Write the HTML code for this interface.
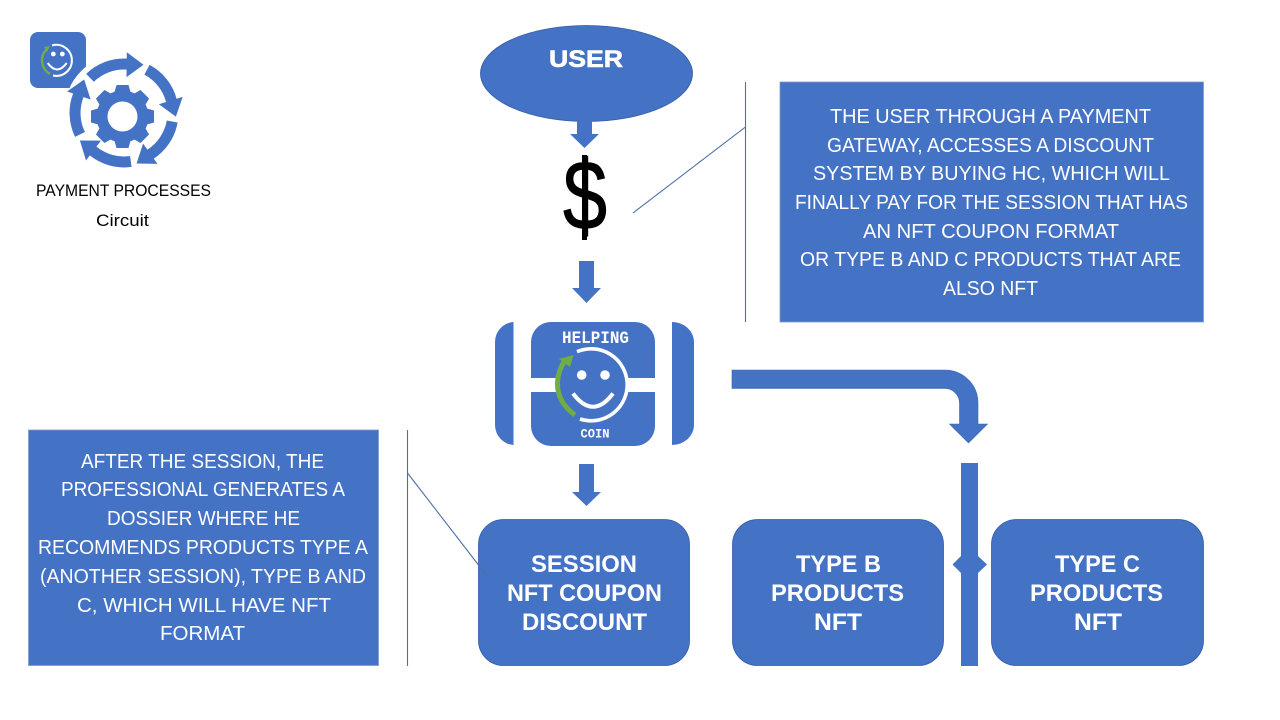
<!DOCTYPE html>
<html><head><meta charset="utf-8"><title>Payment Processes Circuit</title>
<style>html,body{margin:0;padding:0;background:#fff}svg{display:block}
text{font-family:"Liberation Sans",sans-serif}
.w{fill:#fff;font-size:20px;text-anchor:start}
.b{fill:#fff;font-size:24px;font-weight:bold;text-anchor:start}
.k{fill:#000;font-size:17px}
.m{font-family:"Liberation Mono",monospace;font-weight:bold;fill:#fff}
</style></head><body>
<svg width="1280" height="720" viewBox="0 0 1280 720" xmlns="http://www.w3.org/2000/svg">
<rect width="1280" height="720" fill="#fff"/>

<!-- top-left logo -->
<rect x="30" y="32" width="56" height="56" rx="8" fill="#4472c4"/>
<circle cx="124" cy="113" r="60" fill="#fff"/>
<path d="M52 45.500 A15.500 15.500 0 1 1 53 75.500" fill="none" stroke="#fff" stroke-width="2"/>
<path d="M50 74 A15.500 15.500 0 0 1 46 50" fill="none" stroke="#70ad47" stroke-width="2.400"/>
<polygon points="50,46 44,47 47,52" fill="#70ad47"/>
<circle cx="53.300" cy="54" r="2.400" fill="#fff"/><circle cx="62.300" cy="54" r="2.400" fill="#fff"/>
<path d="M47.700 63 Q57 76 66.700 63" fill="none" stroke="#fff" stroke-width="2"/>

<!-- circular arrows -->
<g fill="#4472c4">
<g id="a"><path d="M90 77.800 A49 49 0 0 1 127 64.100" fill="none" stroke="#4472c4" stroke-width="11"/><polygon points="126.500,77.100 126.800,52.200 143.500,64.800"/></g>
<use href="#a" transform="rotate(72 124 113)"/>
<use href="#a" transform="rotate(144 124 113)"/>
<use href="#a" transform="rotate(216 124 113)"/>
<use href="#a" transform="rotate(288 124 113)"/>
<!-- gear -->
<circle cx="122.500" cy="116.500" r="26"/>
<g id="t"><polygon points="114,94 116.500,85 128.500,85 131,94 131,139 128.500,148 116.500,148 114,139"/></g>
<use href="#t" transform="rotate(45 122.500 116.500)"/>
<use href="#t" transform="rotate(90 122.500 116.500)"/>
<use href="#t" transform="rotate(135 122.500 116.500)"/>
</g>
<circle cx="122.500" cy="116.500" r="15" fill="#fff"/>
<text class="k" x="36" y="196" textLength="175" lengthAdjust="spacingAndGlyphs">PAYMENT PROCESSES</text>
<text class="k" x="96" y="226" textLength="53" lengthAdjust="spacingAndGlyphs">Circuit</text>

<!-- user -->
<ellipse cx="586.500" cy="73.500" rx="106" ry="48" fill="#4472c4" stroke="#355ca6" stroke-width=".8"/>
<text x="549" y="67" style="font-size:24px;font-weight:bold;fill:#fff;stroke:#fff;stroke-width:.6" textLength="74" lengthAdjust="spacingAndGlyphs">USER</text>

<!-- straight arrows -->
<g fill="#4472c4">
<polygon points="577,121 592,121 592,134 599,134 584.500,148 570,134 577,134"/>
<polygon points="579,261 594,261 594,288 601,288 586.500,303 572,288 579,288"/>
<polygon points="579,464 594,464 594,492 601,492 586.500,506 572,492 579,492"/>
</g>

<!-- dollar -->
<text x="563" y="229" style="font-size:98px;fill:#000;stroke:#000;stroke-width:1" textLength="44" lengthAdjust="spacingAndGlyphs">$</text>
<rect x="582" y="155" width="5" height="85" fill="#000"/>

<!-- right note -->
<rect x="780" y="82" width="423.500" height="240" fill="#4472c4" stroke="#7f9bd1" stroke-width=".8"/>
<text class="w" x="830" y="123" textLength="321" lengthAdjust="spacingAndGlyphs">THE USER THROUGH A PAYMENT</text>
<text class="w" x="827" y="152" textLength="327" lengthAdjust="spacingAndGlyphs">GATEWAY, ACCESSES A DISCOUNT</text>
<text class="w" x="813" y="180" textLength="357" lengthAdjust="spacingAndGlyphs">SYSTEM BY BUYING HC, WHICH WILL</text>
<text class="w" x="795" y="209" textLength="393" lengthAdjust="spacingAndGlyphs">FINALLY PAY FOR THE SESSION THAT HAS</text>
<text class="w" x="863" y="238" textLength="256" lengthAdjust="spacingAndGlyphs">AN NFT COUPON FORMAT</text>
<text class="w" x="800" y="266" textLength="381" lengthAdjust="spacingAndGlyphs">OR TYPE B AND C PRODUCTS THAT ARE</text>
<text class="w" x="943" y="295" textLength="95" lengthAdjust="spacingAndGlyphs">ALSO NFT</text>

<!-- left note -->
<rect x="28.500" y="430" width="350" height="235.500" fill="#4472c4" stroke="#7f9bd1" stroke-width=".8"/>
<text class="w" x="81" y="468" textLength="243" lengthAdjust="spacingAndGlyphs">AFTER THE SESSION, THE</text>
<text class="w" x="61" y="496" textLength="284" lengthAdjust="spacingAndGlyphs">PROFESSIONAL GENERATES A</text>
<text class="w" x="107" y="525" textLength="193" lengthAdjust="spacingAndGlyphs">DOSSIER WHERE HE</text>
<text class="w" x="38" y="554" textLength="330" lengthAdjust="spacingAndGlyphs">RECOMMENDS PRODUCTS TYPE A</text>
<text class="w" x="40" y="583" textLength="326" lengthAdjust="spacingAndGlyphs">(ANOTHER SESSION), TYPE B AND</text>
<text class="w" x="77" y="612" textLength="254" lengthAdjust="spacingAndGlyphs">C, WHICH WILL HAVE NFT</text>
<text class="w" x="160" y="640" textLength="85" lengthAdjust="spacingAndGlyphs">FORMAT</text>

<!-- coin -->
<path d="M513.500 322 A20 20 0 0 0 495 342 V425 A20 20 0 0 0 513.500 445 Z" fill="#4472c4"/>
<path d="M672 322 A22 20 0 0 1 694 342 V425 A22 20 0 0 1 672 445 Z" fill="#4472c4"/>
<rect x="531" y="322" width="124" height="124" rx="20" fill="#4472c4"/>
<rect x="531" y="378" width="124" height="14" fill="#fff"/>
<circle cx="592.500" cy="384.500" r="36" fill="#4472c4"/>
<path d="M577 351.700 A36 36 0 1 1 580 419" fill="none" stroke="#fff" stroke-width="3.600"/>
<path d="M575 415 Q557 402 557.500 383 Q558 371 564 362" fill="none" stroke="#70ad47" stroke-width="5"/>
<polygon points="573.500,355 559,359 570,367" fill="#70ad47"/>
<circle cx="581.700" cy="375" r="4.800" fill="#fff"/><circle cx="605" cy="375" r="4.800" fill="#fff"/>
<path d="M573 393.500 Q593 420 613 393.500" fill="none" stroke="#fff" stroke-width="4"/>
<text class="m" x="562" y="343" style="font-size:17.500px" textLength="67" lengthAdjust="spacingAndGlyphs">HELPING</text>
<text class="m" x="580.500" y="437.700" style="font-size:13px" textLength="29" lengthAdjust="spacingAndGlyphs">COIN</text>

<!-- bent arrow -->
<path d="M732 370 H945 A33 33 0 0 1 978 403 V424 H987.500 L968.500 443 L949.500 424 H959.500 V403 A14.500 14.500 0 0 0 945 388.500 H732 Z" fill="#4472c4" stroke="#3c66b0" stroke-width=".6"/>

<!-- double arrow bar -->
<polygon points="952.500,564.500 961,556 978,556 987,564.500 978,573 961,573" fill="#4472c4"/>
<rect x="961" y="463" width="17" height="203" fill="#4472c4"/>

<!-- product boxes -->
<g fill="#4472c4" stroke="#355ca6" stroke-width=".8">
<rect x="478.500" y="519.500" width="211" height="146" rx="25"/>
<rect x="732.500" y="519.500" width="211" height="146" rx="25"/>
<rect x="991.500" y="519.500" width="212" height="146" rx="25"/>
</g>
<text class="b" x="531" y="572" textLength="106" lengthAdjust="spacingAndGlyphs">SESSION</text>
<text class="b" x="507" y="601" textLength="155" lengthAdjust="spacingAndGlyphs">NFT COUPON</text>
<text class="b" x="522" y="630" textLength="125" lengthAdjust="spacingAndGlyphs">DISCOUNT</text>
<text class="b" x="796" y="572" textLength="85" lengthAdjust="spacingAndGlyphs">TYPE B</text>
<text class="b" x="771" y="601" textLength="133" lengthAdjust="spacingAndGlyphs">PRODUCTS</text>
<text class="b" x="814" y="630" textLength="48" lengthAdjust="spacingAndGlyphs">NFT</text>
<text class="b" x="1055" y="572" textLength="85" lengthAdjust="spacingAndGlyphs">TYPE C</text>
<text class="b" x="1030" y="601" textLength="133" lengthAdjust="spacingAndGlyphs">PRODUCTS</text>
<text class="b" x="1074" y="630" textLength="48" lengthAdjust="spacingAndGlyphs">NFT</text>

<!-- callout lines -->
<g stroke="#4f6ea8" stroke-width="1.100" fill="none">
<line x1="745.500" y1="82" x2="745.500" y2="322"/>
<line x1="633" y1="213" x2="745.500" y2="127"/>
<line x1="407.500" y1="430" x2="407.500" y2="666"/>
<line x1="407.500" y1="473" x2="487" y2="576"/>
</g>
</svg>
</body></html>
